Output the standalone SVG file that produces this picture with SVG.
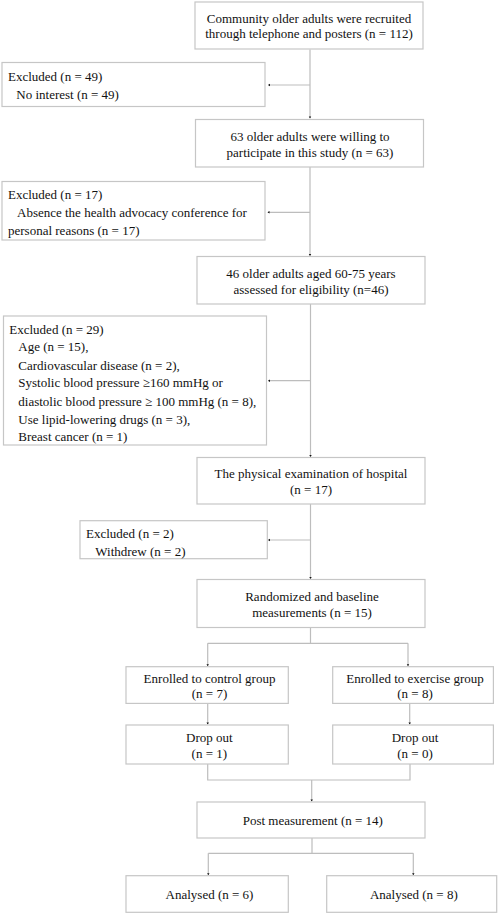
<svg xmlns="http://www.w3.org/2000/svg" width="498" height="914" viewBox="0 0 498 914">
<defs>
<style>
.box{fill:#ffffff;stroke:#c6c6c6;stroke-width:1.2}
.ln{fill:none;stroke:#bdbdbd;stroke-width:1.2}
text{font-family:"Liberation Serif","Times New Roman",serif;font-size:13px;fill:#111111}
.c{text-anchor:middle}
</style>
<marker id="dot" markerWidth="4" markerHeight="4" refX="2" refY="2" orient="auto" markerUnits="userSpaceOnUse">
<path d="M0.5,0.8 L2.5,2 L0.5,3.2 Z" fill="#111111"/>
</marker>
</defs>
<rect width="498" height="914" fill="#ffffff"/>
<g id="connectors">
<path class="ln" d="M310,49.5 V118" marker-end="url(#dot)"/>
<path class="ln" d="M310,85 H268.5" marker-end="url(#dot)"/>
<path class="ln" d="M310,167 V255.5" marker-end="url(#dot)"/>
<path class="ln" d="M310,212.3 H268" marker-end="url(#dot)"/>
<path class="ln" d="M310.5,304 V456.5" marker-end="url(#dot)"/>
<path class="ln" d="M310.5,380.7 H268.5" marker-end="url(#dot)"/>
<path class="ln" d="M310.5,504 V578.5" marker-end="url(#dot)"/>
<path class="ln" d="M310.5,540 H268.5" marker-end="url(#dot)"/>
<path class="ln" d="M310.5,628 V643.3 M207.7,643.3 H408"/>
<path class="ln" d="M207.7,643.3 V665.8" marker-end="url(#dot)"/>
<path class="ln" d="M408,643.3 V665.8" marker-end="url(#dot)"/>
<path class="ln" d="M207.7,703.5 V724" marker-end="url(#dot)"/>
<path class="ln" d="M409.7,703.5 V724" marker-end="url(#dot)"/>
<path class="ln" d="M207.7,764 V780 H410 V764"/>
<path class="ln" d="M311.7,780 V801" marker-end="url(#dot)"/>
<path class="ln" d="M312,838 V853.3 M208.3,853.3 H413.3"/>
<path class="ln" d="M208.3,853.3 V874.8" marker-end="url(#dot)"/>
<path class="ln" d="M413.3,853.3 V874.8" marker-end="url(#dot)"/>
</g>
<g id="n1"><rect class="box" x="195" y="2" width="228" height="47"/>
<text class="c" x="309" y="22.5">Community older adults were recruited</text>
<text class="c" x="309" y="37.8">through telephone and posters (n = 112)</text></g>
<g id="x1"><rect class="box" x="2" y="62.5" width="263" height="44"/>
<text x="8" y="80.5">Excluded (n = 49)</text>
<text x="16.3" y="98.7">No interest (n = 49)</text></g>
<g id="n2"><rect class="box" x="195.5" y="119.5" width="228" height="47.5"/>
<text class="c" x="310" y="141">63 older adults were willing to</text>
<text class="c" x="310" y="157">participate in this study (n = 63)</text></g>
<g id="x2"><rect class="box" x="2" y="181.5" width="263" height="58.5"/>
<text x="8" y="198.8">Excluded (n = 17)</text>
<text x="17" y="216.8">Absence the health advocacy conference for</text>
<text x="8" y="235">personal reasons (n = 17)</text></g>
<g id="n3"><rect class="box" x="197" y="256.5" width="228" height="47.5"/>
<text class="c" x="311" y="277.8">46 older adults aged 60-75 years</text>
<text class="c" x="311" y="293.8">assessed for eligibility (n=46)</text></g>
<g id="x3"><rect class="box" x="3.5" y="316" width="263" height="129"/>
<text x="9.3" y="333.5">Excluded (n = 29)</text>
<text x="18.3" y="351.2">Age (n = 15),</text>
<text x="18.3" y="369.5">Cardiovascular disease (n = 2),</text>
<text x="18.3" y="387.2">Systolic blood pressure ≥160 mmHg or</text>
<text x="18.3" y="405.5">diastolic blood pressure ≥ 100 mmHg (n = 8),</text>
<text x="18.3" y="423.5">Use lipid-lowering drugs (n = 3),</text>
<text x="18.3" y="441.2">Breast cancer (n = 1)</text></g>
<g id="n4"><rect class="box" x="197" y="457.5" width="228" height="46.5"/>
<text class="c" x="311" y="477.8">The physical examination of hospital</text>
<text class="c" x="311" y="493.8">(n = 17)</text></g>
<g id="x4"><rect class="box" x="80" y="520.7" width="187.3" height="38"/>
<text x="86" y="537.8">Excluded (n = 2)</text>
<text x="95.3" y="555.5">Withdrew (n = 2)</text></g>
<g id="n5"><rect class="box" x="197" y="579.5" width="228" height="48"/>
<text class="c" x="312" y="601.2">Randomized and baseline</text>
<text class="c" x="312" y="616.8">measurements (n = 15)</text></g>
<g id="ctrl"><rect class="box" x="126" y="666.7" width="162.3" height="36.7"/>
<text class="c" x="209.5" y="682.8">Enrolled to control group</text>
<text class="c" x="209.5" y="697.8">(n = 7)</text></g>
<g id="exer"><rect class="box" x="332.7" y="666.7" width="160.7" height="36.7"/>
<text class="c" x="415" y="682.8">Enrolled to exercise group</text>
<text class="c" x="415" y="697.8">(n = 8)</text></g>
<g id="drop1"><rect class="box" x="126" y="725" width="162.3" height="39"/>
<text class="c" x="209.3" y="742.2">Drop out</text>
<text class="c" x="209.3" y="757.8">(n = 1)</text></g>
<g id="drop2"><rect class="box" x="332.7" y="725" width="160.7" height="39"/>
<text class="c" x="415" y="742.2">Drop out</text>
<text class="c" x="415" y="757.8">(n = 0)</text></g>
<g id="post"><rect class="box" x="197" y="802" width="228" height="36"/>
<text class="c" x="312.8" y="825.2">Post measurement (n = 14)</text></g>
<g id="an1"><rect class="box" x="126" y="875.7" width="162.3" height="36.6"/>
<text class="c" x="209.5" y="898.5">Analysed (n = 6)</text></g>
<g id="an2"><rect class="box" x="326.7" y="875.7" width="170" height="36.6"/>
<text class="c" x="413.8" y="898.5">Analysed (n = 8)</text></g>
</svg>
